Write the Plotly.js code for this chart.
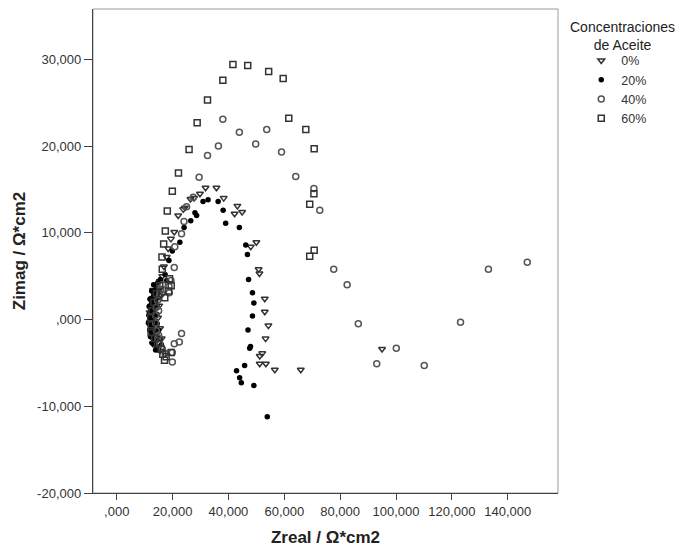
<!DOCTYPE html>
<html>
<head>
<meta charset="utf-8">
<script src="https://cdn.plot.ly/plotly-3.0.1.min.js"></script>
<style>html,body{margin:0;padding:0;background:#fff}</style>
</head>
<body>
<div id="chart" style="width:684px;height:547px"></div>
<script>
// Series names
const seriesNames = ["0%", "20%", "40%", "60%"];

// 0% (triangles)
const x0 = [15.4,14.6,13.9,13.4,13.0,12.8,12.8,13.0,13.4,14.0,14.7,15.5,12.2,12.4,12.5,13.3,
  11.8,11.7,12.2,13.0,14.8,15.2,15.5,16.1,12.9,16.5,
  16.3,16.9,17.9,18.4,19.4,20.6,22.0,23.8,24.4,26.4,27.7,29.8,31.8,35.7,38.3,42.2,43.2,44.9,48.0,50.0,50.8,51.1,53.0,53.0,54.3,53.3,52.1,51.2,51.2,53.4,56.6,65.9,95.0];
const y0 = [4.4,3.6,2.8,2.0,1.2,0.4,-0.4,-1.2,-2.0,-2.6,-3.1,-3.6,0.0,1.6,-1.0,-0.2,
  0.8,-0.6,2.2,3.4,0.2,1.6,-1.0,-2.2,-2.8,3.0,
  5.0,6.1,7.2,8.2,9.3,10.1,12.0,12.7,12.9,13.9,14.0,14.5,15.2,15.2,14.0,12.2,13.1,12.4,8.4,8.9,5.8,5.3,2.4,0.9,-0.7,-2.2,-3.9,-4.2,-5.1,-5.1,-5.8,-5.8,-3.4];

// 20% (filled dots)
const x20 = [14.6,13.8,13.0,12.5,12.1,12.0,12.0,12.3,12.8,13.4,13.3,12.8,12.4,12.3,12.3,12.6,13.1,13.7,14.2,14.9,15.6,13.6,13.7,13.6,14.0,14.4,
  11.5,11.4,11.6,11.8,12.0,12.5,13.2,14.9,14.5,14.4,14.5,15.0,15.5,16.0,15.4,12.1,12.7,13.9,
  17.3,17.9,18.7,19.9,22.6,24.1,26.5,28.0,28.6,30.9,32.7,36.3,38.1,39.0,43.9,46.2,46.8,47.2,48.6,49.1,48.6,47.0,47.9,47.6,45.8,42.9,44.0,44.6,49.1,53.9];
const y20 = [4.2,3.4,2.6,1.8,1.0,0.2,-0.6,-1.4,-2.1,-2.8,3.0,2.2,1.4,0.6,-0.2,-1.0,-1.8,-2.4,-3.1,-3.5,4.6,0.4,-0.4,1.2,2.0,-1.6,
  0.5,-0.3,1.5,-1.2,2.4,3.3,4.0,2.5,1.5,0.6,-0.5,-1.2,-2.2,-2.9,3.3,-2.0,-2.7,-3.5,
  5.2,4.5,6.8,7.9,8.9,10.6,11.4,12.3,12.0,13.6,13.8,13.6,12.6,11.1,10.6,8.6,7.5,4.6,3.1,1.9,0.4,-1.2,-3.1,-3.3,-5.3,-5.9,-6.7,-7.3,-7.6,-11.2];

// 40% (open circles)
const x40 = [16.4,15.4,14.6,14.1,13.9,13.9,14.2,14.7,15.4,16.3,17.3,15.8,15.0,15.0,
  18.7,18.8,19.4,20.6,20.8,23.2,22.4,20.6,19.9,19.9,
  23.2,24.1,25.0,27.4,29.5,32.5,36.4,38.0,43.9,49.75,53.7,59.0,64.1,70.6,72.7,77.7,82.5,86.5,93.1,100.1,110.1,123.1,133.1,147.0];
const y40 = [4.0,3.0,2.2,1.4,0.5,-0.4,-1.3,-2.1,-2.8,-3.4,-3.9,3.5,1.0,-1.8,
  3.8,3.1,4.5,6.0,8.4,-1.6,-2.6,-2.8,-3.8,-4.9,
  9.9,11.3,13.0,14.1,16.4,18.9,20.0,23.1,21.6,20.25,21.9,19.3,16.5,15.1,12.6,5.8,4.0,-0.5,-5.1,-3.3,-5.3,-0.3,5.8,6.6];

// 60% (open squares)
const x60 = [18.9,19.5,18.6,15.4,14.2,13.3,12.6,12.2,12.4,12.3,13.6,14.7,15.9,16.5,17.7,19.5,17.1,16.3,16.2,17.2,
  16.8,17.4,18.1,19.9,22.1,25.9,28.8,32.5,38.0,41.6,46.9,54.4,59.6,61.6,67.7,70.7,70.6,69.1,70.7,69.1];
const y60 = [4.7,3.9,3.3,3.9,3.0,2.0,1.0,0.2,-0.6,-1.5,-2.2,-2.8,-3.4,-4.0,-4.3,-3.8,-4.7,5.8,7.2,2.5,
  8.7,10.2,12.5,14.8,16.9,19.6,22.7,25.3,27.6,29.4,29.3,28.6,27.8,23.2,21.9,19.7,14.5,13.3,8.0,7.3];

// Axis ticks
const xTickVals = [0,20,40,60,80,100,120,140];
const xTickText = [",000","20,000","40,000","60,000","80,000","100,000","120,000","140,000"];
const yTickVals = [-20,-10,0,10,20,30];
const yTickText = ["-20,000","-10,000",",000","10,000","20,000","30,000"];

const FONT = "Liberation Sans, Arial, sans-serif";

const traces = [
  {x:x0, y:y0, name:seriesNames[0], type:"scatter", mode:"markers",
   marker:{symbol:"triangle-down-open", size:6, color:"#333", line:{width:1.5}}},
  {x:x20, y:y20, name:seriesNames[1], type:"scatter", mode:"markers",
   marker:{symbol:"circle", size:5.5, color:"#000", line:{width:0}}},
  {x:x40, y:y40, name:seriesNames[2], type:"scatter", mode:"markers",
   marker:{symbol:"circle-open", size:6, color:"#555", line:{width:1.5}}},
  {x:x60, y:y60, name:seriesNames[3], type:"scatter", mode:"markers",
   marker:{symbol:"square-open", size:6, color:"#333", line:{width:1.5}}}
];

const layout = {
  width:684, height:547,
  margin:{l:93, r:126, t:9, b:54},
  paper_bgcolor:"#fff", plot_bgcolor:"#fff",
  font:{family:FONT, color:"#333", size:13},
  showlegend:true,
  legend:{x:1.05, xanchor:"left", y:0.924, yanchor:"top",
    font:{family:FONT, size:12.5, color:"#333"}, bgcolor:"rgba(0,0,0,0)", borderwidth:0},
  xaxis:{range:[-8.5,158], tickvals:xTickVals, ticktext:xTickText,
    showgrid:false, zeroline:false, showline:true, linecolor:"#444", linewidth:1.2,
    ticks:"outside", ticklen:6, tickcolor:"#444", tickfont:{size:13, color:"#333"},
    title:{text:"<b>Zreal / Ω*cm2</b>", font:{size:17, color:"#222"}, standoff:14}},
  yaxis:{range:[-20,35.8], tickvals:yTickVals, ticktext:yTickText,
    showgrid:false, zeroline:false, showline:true, linecolor:"#444", linewidth:1.2,
    ticks:"outside", ticklen:8, tickcolor:"#444", tickfont:{size:13, color:"#333"},
    title:{text:"<b>Zimag / Ω*cm2</b>", font:{size:17, color:"#222"}, standoff:7}},
  shapes:[{type:"rect", xref:"paper", yref:"paper", x0:0, x1:1, y0:0, y1:1,
    line:{color:"#999", width:1}, layer:"below"}],
  annotations:[{xref:"paper", yref:"paper", x:1.138, y:0.983, xanchor:"center", yanchor:"top",
    text:"Concentraciones<br>de Aceite", showarrow:false, align:"center",
    font:{family:FONT, size:14, color:"#222"}}]
};

Plotly.newPlot("chart", traces, layout, {displayModeBar:false, staticPlot:true});
</script>
</body>
</html>
